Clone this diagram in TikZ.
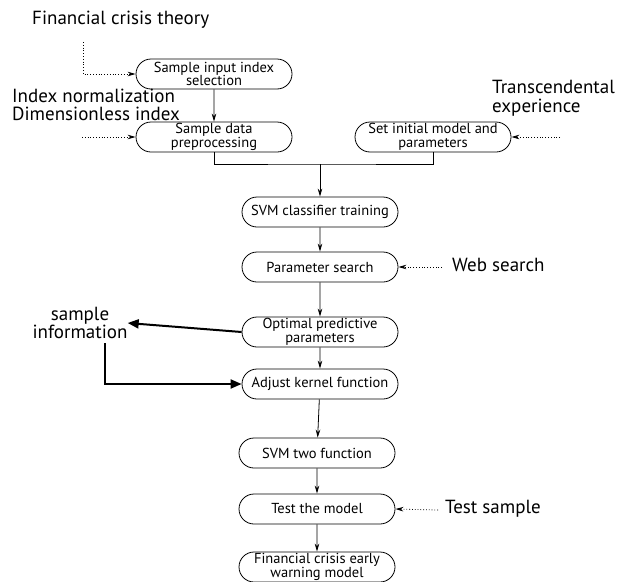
\documentclass[tikz,border=0pt]{standalone}
\usepackage{fontspec}
\setmainfont{PT Sans}
\usetikzlibrary{arrows.meta,shapes.misc}
\begin{document}
\begin{tikzpicture}[x=1pt,y=-1pt,
  stepbox/.style={draw,thick,rounded rectangle,minimum width=156pt,minimum height=30pt,inner sep=0pt,align=center,font=\fontsize{14.5}{13.5}\selectfont},
  lbl/.style={font=\fontsize{19}{18.5}\selectfont,align=left,inner sep=0pt},
  flow/.style={draw,thick,-{Stealth[length=8pt,width=4.5pt]}},
  dot/.style={draw,thick,dotted,-{Stealth[length=8pt,width=4.5pt]}},
  bold/.style={draw,line width=2pt,-{Triangle[length=11pt,width=9pt]}}]
\useasboundingbox (0,0) rectangle (618,581);
\node[lbl,anchor=west] (fct) at (32,20) {Financial crisis theory};
\node[stepbox] (b1) at (214,74) {Sample input index\\selection};
\node[lbl,anchor=west] (inn) at (12,105) {Index normalization\\Dimensionless index};
\node[stepbox] (b2) at (214,137) {Sample data\\preprocessing};
\node[stepbox] (b3) at (433,137) {Set initial model and\\parameters};
\node[lbl,anchor=west] (te) at (492,98) {Transcendental\\experience};
\node[stepbox] (b4) at (320,212) {SVM classifier training};
\node[stepbox] (b5) at (320,267) {\raisebox{-4pt}{Parameter search}};
\node[lbl,anchor=west] (ws) at (452,265) {Web search};
\node[stepbox] (b6) at (320,332) {Optimal predictive\\parameters};
\node[lbl,align=center] (si) at (80,323) {sample\\information};
\node[stepbox] (b7) at (320,384) {Adjust kernel function};
\node[stepbox] (b8) at (317,453) {SVM two function};
\node[stepbox] (b9) at (317,509) {Test the model};
\node[lbl,anchor=west] (ts) at (445,509) {Test sample};
\node[stepbox] (b10) at (317,567) {Financial crisis early\\warning model};
\coordinate (d1) at (83,42);
\coordinate (d2) at (82,137);
\coordinate (d3) at (560,137);
\coordinate (d4) at (442,267);
\coordinate (d5) at (438,510);
\coordinate (j) at (320,164);
\draw[dot] (d1) |- (b1.west);
\draw[dot] (d2) -- (b2.west);
\draw[dot] (d3) -- (b3.east);
\draw[dot] (d4) -- (b5.east);
\draw[dot] (d5) -- (b9.east);
\draw[flow] (b1) -- (b2);
\draw[thick] (b2.south) |- (j) -| (b3.south);
\draw[flow] (j) -- (b4);
\draw[flow] (b4) -- (b5);
\draw[flow] (b5) -- (b6);
\draw[flow] (b6) -- (b7);
\draw[flow] (b7) -- (b8);
\draw[flow] (b8) -- (b9);
\draw[flow] (b9) -- (b10);
\draw[bold] (b6.west) -- (si.east);
\draw[bold] (si.south -| 105,0) ++(0,4) |- (b7.west);
\end{tikzpicture}
\end{document}
